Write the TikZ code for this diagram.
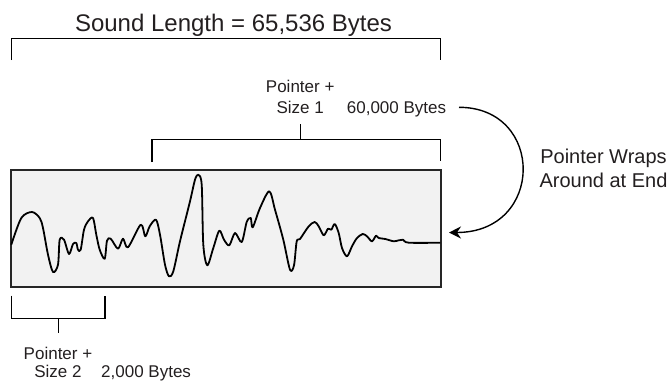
\documentclass[tikz,border=0pt]{standalone}
\usepackage{fontspec}
\setmainfont{Liberation Sans}
\usepackage{xcolor}
\usepackage{tikz}
\usetikzlibrary{arrows.meta, positioning, calc}
\definecolor{inkgray}{HTML}{231F20}
\definecolor{clipfill}{HTML}{F2F2F2}
\tikzset{
  lblS/.style  = {font=\fontsize{17}{20.6}\selectfont, text=inkgray, inner sep=0pt, align=center},
  lblM/.style  = {font=\fontsize{20}{24}\selectfont,   text=inkgray, inner sep=0pt, align=center},
  lblL/.style  = {font=\fontsize{24}{28}\selectfont,   text=inkgray, inner sep=0pt},
  soundbox/.style = {rectangle, draw=black!85, line width=1.8pt, fill=clipfill,
                     minimum width=429.7pt, minimum height=117pt, inner sep=0pt},
  bracket/.style  = {draw=black, line width=1.4pt},
  wave/.style     = {line width=1.8pt, line join=round},
  wraparrow/.style = {line width=1.4pt, -{Stealth[length=12pt, width=12pt, inset=4pt]}},
}

\begin{document}
\begin{tikzpicture}[x=1pt, y=-1pt]

    \useasboundingbox (0,0) rectangle (671,381);

    %% Title and sound buffer
    \node[lblL, anchor=base] (title) at (233.5,31) {Sound Length = 65,536 Bytes};
    \node[soundbox] (clip) at (225.9,228.5) {};

    %% Waveform
    \draw[wave] plot[smooth, tension=0.5] coordinates {
      (11.3,244.7) (21.3,218) (32,212) (39.7,218) (43,228) (48,254.7) (53,272)
      (58,264.7) (59.7,239.7) (64,239.7) (69,254) (73,244) (76.3,243) (78,249.7)
      (80.7,249.7) (84,229.7) (88,221.3) (93,218) (96.3,234.7) (99.7,249.7)
      (104.7,258.7) (107,240.7) (110.7,238.7) (118,248.7) (123,238.7) (128,247.3)
      (140.7,224.7) (145.3,236.3) (149.7,226.3) (156,219.7) (160,234.7) (165,264.7)
      (169,276.3) (173.3,271.3) (180,241.3) (190,201.3) (195,179.7) (198.3,174.7)
      (201.7,184.7) (203.3,244.7) (207.3,265.3) (213.3,248) (219.3,230.7) (224,239.7)
      (229.3,245.3) (235,233) (241.7,242) (246.7,222) (250.7,218) (252.7,227.3)
      (260,208) (269.3,191.3) (275,209.7) (283.3,239.7) (290,269.7) (294,265.3)
      (296.7,241.3) (300,239) (308.7,226.3) (314.7,222) (318.7,226.3) (323.7,235.3)
      (328,228.7) (331.3,229.7) (334.7,224) (338.7,233) (342,248) (347,256.3)
      (352,246.3) (357,238) (362.7,234) (367,236.3) (372,241.3) (376,235.7)
      (378.7,238) (385.3,239) (393.7,241.3) (398.7,240.3) (403,239.7) (408.7,242.7)
      (440.3,242.7)};

    %% Brackets
    \coordinate (allL)  at (11.7,60);
    \coordinate (allR)  at (440.7,60);
    \coordinate (seg1L) at (152,162);
    \coordinate (seg1R) at (440.7,161);
    \coordinate (seg1M) at (300.2,139.3);
    \coordinate (seg2L) at (11.7,295.7);
    \coordinate (seg2R) at (105,295.7);
    \coordinate (seg2M) at (58.3,318.3);
    \draw[bracket] (allL)  -- ++(0,-21.7) -| (allR);
    \draw[bracket] (seg1L) -- ++(0,-22.7) -| (seg1R);
    \draw[bracket] (seg1M) -- ++(0,-15.3);
    \draw[bracket] (seg2L) -- ++(0,22.6)  -| (seg2R);
    \draw[bracket] (seg2M) -- ++(0,15);

    %% Labels (base = last line)
    \node[lblS, anchor=base]      (ptr1) at (300.2,113.3) {Pointer +\\Size 1};
    \node[lblS, anchor=base west] (len1) at (346.7,113.3) {60,000 Bytes};
    \node[lblS, anchor=base, font=\fontsize{17}{18.2}\selectfont]
                                  (ptr2) at (58,377.3)    {Pointer +\\Size 2};
    \node[lblS, anchor=base west] (len2) at (101,377.3)   {2,000 Bytes};
    \node[lblM, anchor=base]      (wrap) at (603.5,187.3) {Pointer Wraps\\Around at End};

    %% Wrap-around arrow
    \coordinate (wrapstart) at (459,107.3);
    \coordinate (wrapend)   at (449,232.5);
    \draw[wraparrow] (wrapstart) .. controls (545,107.3) and (545,232.5) .. (wrapend);

  \end{tikzpicture}
\end{document}
